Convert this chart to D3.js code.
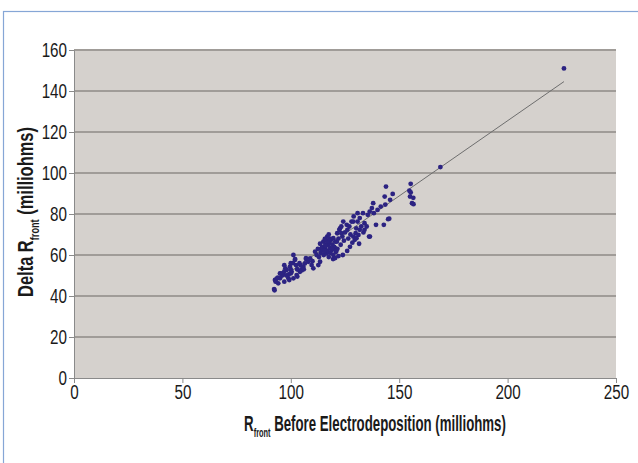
<!DOCTYPE html>
<html>
<head>
<meta charset="utf-8">
<script src="https://cdn.jsdelivr.net/npm/d3@7"></script>
<style>
  html, body { margin: 0; padding: 0; background: #ffffff; }
  svg { display: block; }
  text { font-family: "Liberation Sans", Arial, sans-serif; fill: #1a1a1a; }
</style>
</head>
<body>
<script>
// ---- data ----
const xValues = [
  92.3, 92.5, 92.7, 93.5, 94.2, 95.0, 95.5, 96.6, 97.0, 97.5, 98.1, 98.9, 99.3, 99.6, 100.0, 100.4,
  101.0, 101.2, 101.2, 101.9, 102.4, 102.7, 103.0, 104.2, 104.5, 105.0, 105.8, 106.5, 107.0, 108.1,
  108.9, 109.6, 110.4, 110.0,
  111.2, 111.9, 112.7, 113.5, 113.0, 113.8, 114.2, 114.5, 115.0, 115.2, 115.8, 116.0, 116.6, 116.5,
  117.0, 117.3, 117.5, 117.8, 118.0, 118.3, 118.6, 118.9, 119.2, 119.6, 119.6, 119.5, 120.0, 120.4,
  120.5, 120.8, 121.2, 121.4, 121.5, 122.0, 122.4, 122.7, 123.0, 123.3, 123.3, 123.8, 124.2, 124.5,
  125.0, 125.8, 126.1, 126.5, 127.0, 127.5, 128.0, 128.4, 128.8, 129.0, 129.5, 129.9, 130.2, 130.8,
  130.8, 131.2, 131.5, 131.8, 131.8, 132.5, 133.3, 133.5, 134.0, 134.0, 135.0, 135.5, 136.1, 136.4,
  137.4, 138.0, 138.3, 139.3, 140.0, 141.5, 142.9, 143.3, 143.6, 143.9, 144.9, 145.4, 145.8, 147.0,
  154.7, 155.3, 155.3, 155.0, 156.5, 155.9, 156.6, 169.0, 226.0,
  127.3, 126.0, 124.0, 122.0, 120.5, 128.8, 130.3, 136.5,
  114.0, 115.5, 116.0, 117.0, 118.0, 116.8, 115.7, 119.0, 121.0, 112.5, 113.5, 117.5,
  96.0, 97.0, 99.0, 100.0, 103.0, 104.0, 105.0, 107.0, 106.0, 95.0, 94.0, 93.0, 97.0, 98.0, 100.0, 102.0, 103.0
];
const yValues = [
  43.4, 42.8, 47.8, 48.5, 46.2, 48.6, 51.0, 50.5, 47.0, 53.5, 52.7, 48.6, 47.8, 54.3, 51.0, 51.8,
  56.0, 60.0, 48.6, 57.6, 55.1, 50.2, 53.0, 51.8, 55.0, 53.0, 54.3, 55.9, 58.5, 56.7,
  58.4, 55.1, 53.5, 57.0,
  61.6, 60.0, 55.1, 56.7, 59.0, 61.0, 62.4, 64.0, 66.5, 60.0, 63.3, 65.0, 60.8, 67.0,
  62.0, 64.9, 59.0, 66.0, 63.5, 61.0, 67.4, 62.4, 65.0, 60.0, 68.2, 58.0, 64.0, 63.3,
  66.5, 61.5, 66.5, 70.6, 63.0, 68.0, 72.3, 73.0, 65.0, 70.6, 73.9, 69.0, 76.3, 67.0,
  71.0, 74.7, 72.3, 68.0, 73.9, 70.0, 76.3, 66.0, 76.3, 78.8, 67.4, 70.6, 73.0, 76.3,
  80.4, 69.8, 65.5, 72.3, 78.0, 74.0, 80.4, 71.0, 75.5, 72.3, 73.9, 79.6, 69.0, 81.2,
  82.9, 85.3, 80.4, 74.7, 82.0, 83.6, 74.7, 88.5, 84.6, 93.4, 77.5, 77.7, 86.9, 89.8,
  91.4, 94.7, 90.5, 88.5, 87.9, 85.3, 84.8, 102.9, 151.0,
  64.0, 62.0, 60.0, 59.5, 58.5, 69.0, 68.2, 69.0,
  63.0, 62.0, 64.5, 66.5, 68.0, 69.0, 67.8, 63.0, 62.0, 63.0, 65.5, 70.0,
  50.0, 52.0, 50.5, 53.0, 53.0, 56.0, 52.5, 58.0, 53.0, 51.0, 49.0, 47.0, 55.0, 50.0, 56.0, 58.0, 49.5
];
const xTicks = [0, 50, 100, 150, 200, 250];
const yTicks = [0, 20, 40, 60, 80, 100, 120, 140, 160];
const trendX = [92.3, 226.0];
const trendSlope = 0.734;
const trendIntercept = -21.3;
const xTitleMain = "R";
const xTitleSub = "front";
const xTitleRest = " Before Electrodeposition (milliohms)";
const yTitleMain = "Delta R";
const yTitleSub = "front";
const yTitleRest = " (milliohms)";

// ---- layout ----
const W = 638, H = 463;
const plot = { left: 74, right: 616, top: 50, bottom: 378 };
const narrow = 0.78;

const svg = d3.select("body").append("svg").attr("width", W).attr("height", H);

// outer frame (blue)
svg.append("rect")
  .attr("x", 3.5).attr("y", 11.5).attr("width", W + 10).attr("height", H + 10)
  .attr("fill", "#ffffff").attr("stroke", "#86a6d6").attr("stroke-width", 1.2);

const x = d3.scaleLinear().domain([0, 250]).range([plot.left, plot.right]);
const y = d3.scaleLinear().domain([0, 160]).range([plot.bottom, plot.top]);

// plot background
svg.append("rect")
  .attr("x", plot.left).attr("y", plot.top)
  .attr("width", plot.right - plot.left).attr("height", plot.bottom - plot.top)
  .attr("fill", "#d5d1cd");

// gridlines
svg.append("g").selectAll("line").data(yTicks.filter(d => d > 0)).join("line")
  .attr("x1", plot.left).attr("x2", plot.right)
  .attr("y1", d => y(d)).attr("y2", d => y(d))
  .attr("stroke", "#a09c98").attr("stroke-width", 2);

// axes
const yAxis = d3.axisLeft(y).tickValues(yTicks).tickSize(5).tickPadding(3).tickFormat(d3.format("d"));
const xAxis = d3.axisBottom(x).tickValues(xTicks).tickSize(5).tickPadding(2).tickFormat(d3.format("d"));

const gy = svg.append("g").attr("transform", `translate(${plot.left},0)`).call(yAxis);
const gx = svg.append("g").attr("transform", `translate(0,${plot.bottom})`).call(xAxis);
[gx, gy].forEach(g => {
  g.selectAll("path.domain").attr("stroke", "#8a8a8a").attr("stroke-width", 1);
  g.selectAll(".tick line").attr("stroke", "#8a8a8a");
  g.selectAll(".tick text").attr("font-size", 19.5).attr("fill", "#1a1a1a")
    .attr("font-family", "'Liberation Sans', Arial, sans-serif");
});
gy.selectAll(".tick text").attr("dy", "0.34em").attr("x", -7 / narrow)
  .attr("transform", `scale(${narrow},1)`);
gx.selectAll(".tick text").attr("transform", `scale(${narrow},1)`);

// trend line
svg.append("line")
  .attr("x1", x(trendX[0])).attr("y1", y(trendSlope * trendX[0] + trendIntercept))
  .attr("x2", x(trendX[1])).attr("y2", y(trendSlope * trendX[1] + trendIntercept))
  .attr("stroke", "#6e6e6e").attr("stroke-width", 1);

// points
const pts = xValues.map((v, i) => [v, yValues[i]]);
svg.append("g").selectAll("circle").data(pts).join("circle")
  .attr("cx", d => x(d[0])).attr("cy", d => y(d[1])).attr("r", 2.4)
  .attr("fill", "#2c2382");

// axis titles (condensed to fit the reference widths)
function title(g, main, sub, rest, targetWidth) {
  const t = g.append("text").attr("text-anchor", "middle")
    .attr("font-size", 21.5).attr("font-weight", "bold");
  t.append("tspan").text(main);
  t.append("tspan").attr("font-size", 12).attr("dy", 6).text(sub);
  t.append("tspan").attr("dy", -6).text(rest);
  const w = t.node().getComputedTextLength();
  t.attr("transform", `scale(${targetWidth / w},1)`);
}
const gxt = svg.append("g").attr("transform", `translate(375,431)`);
title(gxt, xTitleMain, xTitleSub, xTitleRest, 262);
const gyt = svg.append("g").attr("transform", `translate(33,212) rotate(-90)`);
title(gyt, yTitleMain, yTitleSub, yTitleRest, 170);
</script>
</body>
</html>
